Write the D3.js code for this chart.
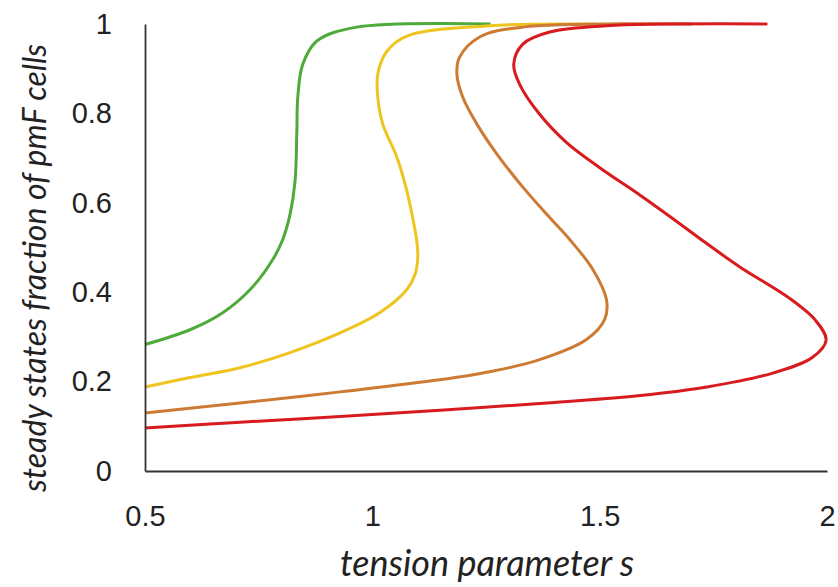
<!DOCTYPE html>
<html>
<head>
<meta charset="utf-8">
<script src="https://cdn.jsdelivr.net/npm/d3@7"></script>
<style>
  body { margin: 0; background: #fff; }
  svg { display: block; font-family: Lato, "Open Sans", sans-serif; }
  .axis text { font-size: 29px; fill: #222; }
  .axis path { stroke: #333; stroke-width: 1.8; }
  .title { font-style: italic; fill: #222; }
</style>
</head>
<body>
<svg width="838" height="587"></svg>
<script>
// DATA  (points along each curve: [tension s, steady-state fraction])

var xTicks = [0.5, 1, 1.5, 2],
    yTicks = [0, 0.2, 0.4, 0.6, 0.8, 1];

var greenCurve = [
  [0.5, 0.283], [0.599, 0.316], [0.671, 0.354], [0.735, 0.410], [0.781, 0.473],
  [0.803, 0.518], [0.819, 0.574], [0.830, 0.648], [0.834, 0.760], [0.836, 0.836],
  [0.847, 0.910], [0.878, 0.962], [0.966, 0.993], [1.26, 1.0]
];

var yellowCurve = [
  [0.5, 0.188], [0.599, 0.209], [0.709, 0.231], [0.819, 0.265], [0.929, 0.309],
  [1.016, 0.354], [1.076, 0.406], [1.094, 0.440], [1.100, 0.480], [1.097, 0.520],
  [1.090, 0.560], [1.076, 0.626], [1.054, 0.702], [1.023, 0.776], [1.012, 0.836],
  [1.012, 0.888], [1.032, 0.939], [1.076, 0.973], [1.258, 0.996], [1.49, 1.0]
];

var orangeCurve = [
  [0.5, 0.130], [0.709, 0.152], [0.929, 0.177], [1.148, 0.204], [1.258, 0.222],
  [1.368, 0.249], [1.471, 0.294], [1.511, 0.339], [1.515, 0.383], [1.485, 0.451],
  [1.434, 0.518], [1.390, 0.567], [1.331, 0.635], [1.274, 0.709], [1.230, 0.776],
  [1.199, 0.836], [1.186, 0.888], [1.192, 0.926], [1.236, 0.971], [1.331, 0.993],
  [1.704, 1.0]
];

var redCurve = [
  [0.5, 0.096], [0.709, 0.109], [0.929, 0.122], [1.149, 0.136], [1.369, 0.151],
  [1.589, 0.169], [1.736, 0.188], [1.881, 0.219], [1.969, 0.255], [1.998, 0.293],
  [1.974, 0.338], [1.914, 0.389], [1.809, 0.456], [1.727, 0.515], [1.659, 0.566],
  [1.589, 0.617], [1.501, 0.678], [1.426, 0.736], [1.368, 0.798], [1.324, 0.865],
  [1.311, 0.910], [1.331, 0.955], [1.390, 0.982], [1.515, 0.996], [1.869, 1.0]
];

var curves = [greenCurve, yellowCurve, orangeCurve, redCurve],
    colors = ["#4eab3a", "#eec41f", "#cd7a33", "#d81b1e"];

// SETUP

var svg = d3.select("svg"),
    x = d3.scaleLinear().domain([0.5, 2]).range([145, 827]),
    y = d3.scaleLinear().domain([0, 1]).range([471, 24]);

var line = d3.line()
    .x(function (d) { return x(d[0]); })
    .y(function (d) { return y(d[1]); })
    .curve(d3.curveCatmullRom.alpha(0.5));

// CURVES

svg.selectAll(".curve")
    .data(curves)
  .enter().append("path")
    .attr("class", "curve")
    .attr("fill", "none")
    .attr("stroke", function (d, i) { return colors[i]; })
    .attr("stroke-width", 3)
    .attr("stroke-linejoin", "round")
    .attr("d", line);

// AXES

svg.append("g")
    .attr("class", "axis axis--x")
    .attr("transform", "translate(0," + y(0) + ")")
    .call(d3.axisBottom(x).tickValues(xTicks).tickSize(0).tickPadding(34)
        .tickFormat(d3.format("")));

svg.append("g")
    .attr("class", "axis axis--y")
    .attr("transform", "translate(" + x(0.5) + ",0)")
    .call(d3.axisLeft(y).tickValues(yTicks).tickSize(0).tickPadding(33)
        .tickFormat(d3.format("")));

svg.selectAll(".axis text").attr("font-family", null);

// TITLES

svg.append("text")
    .attr("class", "title")
    .attr("x", 487)
    .attr("y", 576)
    .attr("text-anchor", "middle")
    .style("font-size", "36px")
    .text("tension parameter s");

svg.append("text")
    .attr("class", "title")
    .attr("transform", "translate(46,268) rotate(-90)")
    .attr("text-anchor", "middle")
    .style("font-size", "32px")
    .text("steady states fraction of pmF cells");
</script>
</body>
</html>
